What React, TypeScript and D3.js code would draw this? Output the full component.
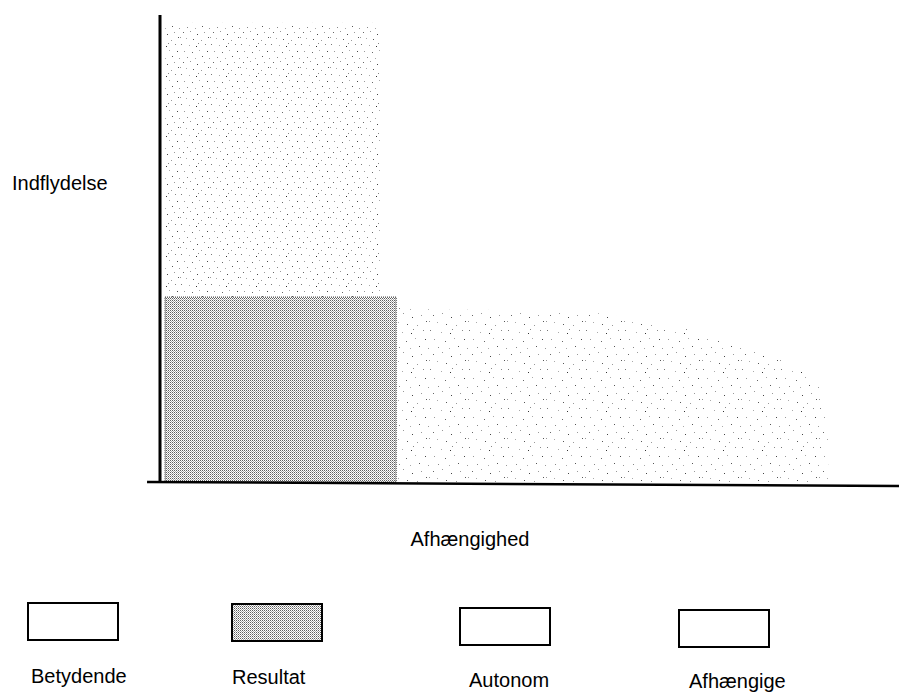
import * as d3 from "d3";

// regions of the influence / dependence plot, in axis units (0-100)
const regionNames = ["Betydende", "Resultat", "Afhængige"];
const betydendeX = [0.7, 30.6];
const betydendeY = [39.6, 98.3];
const resultatX = [0.7, 32.8];
const resultatY = [0, 39.6];
const afhaengigeEdgeX = [32.8, 33.3, 46.8, 59.3, 67.6, 75.0, 81.5, 88.5, 91.3, 92.1, 92.8, 92.8];
const afhaengigeEdgeY = [39.4, 37.9, 36.8, 36.4, 34.3, 32.1, 28.9, 24.6, 21.2, 16.9, 11.1, 4.7];

const legendLabels = ["Betydende", "Resultat", "Autonom", "Afhængige"];
const legendShaded = [false, true, false, false];

const xTitle = "Afhængighed";
const yTitle = "Indflydelse";

const width = 899;
const height = 692;
const font = "'Liberation Sans', Arial, sans-serif";

// legend placement (boxes are staggered a little in the scan)
const legendLayout = [
  { x: 28, y: 603, tx: 31, ty: 683 },
  { x: 232, y: 604, tx: 232, ty: 684 },
  { x: 460, y: 608, tx: 469, ty: 687 },
  { x: 679, y: 610, tx: 689, ty: 688 },
];

// hand-placed dots for the stipple texture tile (30x30)
const stippleDots = [
  [3, 2, "#666"], [10, 1, "#999"], [17, 4, "#444"], [24, 2, "#999"], [28, 7, "#555"],
  [6, 8, "#aaa"], [13, 9, "#555"], [21, 10, "#999"], [1, 14, "#777"], [9, 15, "#aaa"],
  [16, 16, "#333"], [25, 14, "#888"], [4, 21, "#999"], [12, 22, "#666"], [19, 20, "#aaa"],
  [27, 21, "#444"], [7, 27, "#888"], [15, 28, "#aaa"], [22, 26, "#555"], [29, 28, "#999"],
  [0, 7, "#999"], [18, 13, "#888"],
] as const;

export default function App() {
  const x = d3.scaleLinear([0, 100], [160, 880]);
  const y = d3.scaleLinear([0, 100], [482, 15]);

  const edge = afhaengigeEdgeX.map((v, i) => [x(v), y(afhaengigeEdgeY[i])] as [number, number]);
  const edgePath = d3.line().curve(d3.curveCatmullRom.alpha(0.5))(edge) ?? "";
  const afhPath =
    edgePath +
    `L${x(afhaengigeEdgeX[afhaengigeEdgeX.length - 1])},${y(0)}` +
    `L${x(afhaengigeEdgeX[0])},${y(0)}Z`;

  return (
    <svg
      width={width}
      height={height}
      style={{ position: "absolute", left: 0, top: 0, background: "#fff" }}
      fontFamily={font}
    >
      <defs>
        <pattern id="stipple" width={30} height={30} patternUnits="userSpaceOnUse">
          {stippleDots.map(([px, py, c], i) => (
            <rect key={i} x={px} y={py} width={1} height={1} fill={c} />
          ))}
        </pattern>
        <pattern id="stippleSparse" width={39} height={39} patternUnits="userSpaceOnUse">
          {stippleDots.map(([px, py, c], i) => (
            <rect key={i} x={Math.round(px * 1.3)} y={Math.round(py * 1.3)} width={1} height={1} fill={c} />
          ))}
        </pattern>
        <pattern id="dense" width={2} height={2} patternUnits="userSpaceOnUse">
          <rect x={0} y={0} width={1} height={1} fill="#5e5e5e" />
          <rect x={1} y={1} width={1} height={1} fill="#a8a8a8" />
        </pattern>
      </defs>

      <g>
        <title>{regionNames[0]}</title>
        <rect
          x={x(betydendeX[0])}
          y={y(betydendeY[1])}
          width={x(betydendeX[1]) - x(betydendeX[0])}
          height={y(betydendeY[0]) - y(betydendeY[1])}
          fill="url(#stipple)"
        />
      </g>
      <path d={afhPath} fill="url(#stippleSparse)" />
      <rect
        x={x(resultatX[0])}
        y={y(resultatY[1])}
        width={x(resultatX[1]) - x(resultatX[0])}
        height={y(resultatY[0]) - y(resultatY[1])}
        fill="url(#dense)"
        stroke="#333"
        strokeWidth={1}
        strokeDasharray="1,1"
      />

      {/* axes */}
      <line x1={x(0)} x2={x(0)} y1={y(100)} y2={y(0)} stroke="#000" strokeWidth={3} />
      <line x1={x(-1.8)} x2={width} y1={y(0)} y2={y(0) + 4} stroke="#000" strokeWidth={2.5} />

      <text x={12} y={190} fontSize={20}>
        {yTitle}
      </text>
      <text x={470} y={546} fontSize={20} textAnchor="middle">
        {xTitle}
      </text>

      {legendLabels.map((lab, i) => {
        const l = legendLayout[i];
        return (
          <g key={lab}>
            <rect
              x={l.x}
              y={l.y}
              width={90}
              height={37}
              fill={legendShaded[i] ? "url(#dense)" : "#fff"}
              stroke="#000"
              strokeWidth={2}
            />
            <text x={l.tx} y={l.ty} fontSize={20}>
              {lab}
            </text>
          </g>
        );
      })}
    </svg>
  );
}
